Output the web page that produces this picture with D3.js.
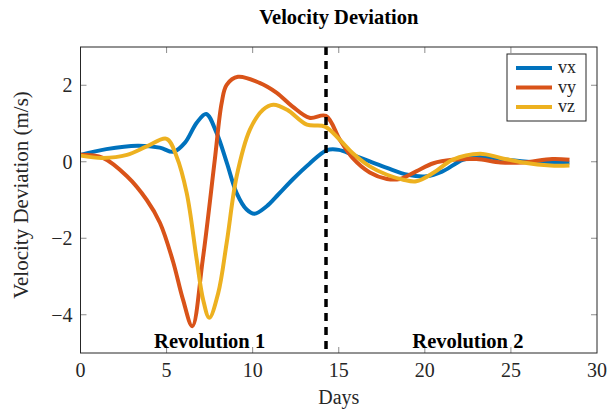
<!DOCTYPE html>
<html>
<head>
<meta charset="utf-8">
<script src="https://cdn.jsdelivr.net/npm/d3@7"></script>
<style>
    body { margin: 0; background: #fff; }
    text { font-family: "Liberation Serif", "Times New Roman", serif; }
</style>
</head>
<body>
<div id="visualization"></div>
<script>
// days sampled along each curve
const vxDays = [0, 1.5, 3.3, 4.6, 5.4, 6.07, 6.75, 7.3, 7.9, 8.5, 9.07, 9.65, 10.1, 10.8, 11.5, 12.35, 13.3, 14.3, 15.0, 15.8, 16.8, 17.8, 19.0, 20.1, 21.0, 22.2, 23.2, 24.8, 26.5, 28.4];
const vxValues = [0.18, 0.33, 0.42, 0.37, 0.26, 0.5, 1.02, 1.25, 0.76, -0.03, -0.82, -1.25, -1.36, -1.17, -0.85, -0.45, -0.05, 0.3, 0.31, 0.18, 0.01, -0.16, -0.34, -0.38, -0.26, 0.05, 0.13, 0.05, -0.02, -0.02];

const vyDays = [0, 1.3, 2.7, 3.85, 4.62, 5.37, 5.95, 6.49, 7.1, 7.8, 8.2, 8.49, 9.15, 10.4, 11.4, 12.3, 13.3, 14.25, 15.07, 15.8, 16.8, 17.8, 18.55, 19.5, 20.5, 21.6, 23.0, 24.4, 25.7, 27.4, 28.4];
const vyValues = [0.18, 0.1, -0.38, -1.0, -1.6, -2.6, -3.6, -4.3, -2.56, 0.05, 1.54, 2.01, 2.22, 2.06, 1.8, 1.45, 1.15, 1.2, 0.57, 0.1, -0.28, -0.45, -0.45, -0.25, -0.04, 0.05, 0.07, -0.02, -0.02, 0.07, 0.05];

const vzDays = [0, 1.3, 2.7, 3.85, 5.0, 5.58, 6.17, 6.75, 7.12, 7.48, 8.0, 8.49, 9.07, 9.84, 10.6, 11.2, 12.0, 13.15, 14.2, 15.07, 15.8, 16.8, 17.8, 18.75, 19.5, 20.5, 21.6, 23.2, 24.4, 25.7, 27.3, 28.4];
const vzValues = [0.16, 0.1, 0.18, 0.4, 0.6, 0.14, -0.82, -2.56, -3.6, -4.08, -3.43, -2.12, -0.38, 0.84, 1.36, 1.49, 1.36, 0.97, 0.92, 0.57, 0.23, -0.12, -0.34, -0.47, -0.51, -0.29, 0.05, 0.21, 0.1, -0.02, -0.1, -0.1];

const seriesNames = ['vx', 'vy', 'vz'];
const seriesColors = ['#0072BD', '#D95319', '#EDB120'];

const xTicks = [0, 5, 10, 15, 20, 25, 30];
const yTicks = [-4, -2, 0, 2];
const revolutionBoundary = 14.26;
const revolutionLabels = [
    { day: 7.5, text: 'Revolution 1' },
    { day: 22.5, text: 'Revolution 2' }
];

const config = {
    width: 607,
    height: 410,
    margins: { top: 47, right: 10, bottom: 57, left: 80.5 },
    get plotWidth() { return this.width - this.margins.left - this.margins.right; },
    get plotHeight() { return this.height - this.margins.top - this.margins.bottom; }
};

const series = seriesNames.map((name, i) => ({
    name: name,
    color: seriesColors[i],
    points: [vxDays, vyDays, vzDays][i].map((d, j) => ({
        day: d, value: [vxValues, vyValues, vzValues][i][j]
    }))
}));

const svg = d3.select('#visualization').append('svg')
    .attr('width', config.width)
    .attr('height', config.height);

const x = d3.scaleLinear().domain([0, 30]).range([0, config.plotWidth]);
const y = d3.scaleLinear().domain([-5, 3]).range([config.plotHeight, 0]);

const axisColor = '#262626';
const tickColor = '#8c8c8c';

// title
svg.append('text')
    .attr('x', config.margins.left + config.plotWidth / 2)
    .attr('y', 24)
    .attr('text-anchor', 'middle')
    .attr('font-size', 20.5)
    .attr('font-weight', 'bold')
    .text('Velocity Deviation');

const group = svg.append('g')
    .attr('transform', 'translate(' + config.margins.left + ',' + config.margins.top + ')');

group.append('defs').append('clipPath').attr('id', 'plot-clip')
    .append('rect').attr('width', config.plotWidth).attr('height', config.plotHeight);

// inward ticks on all four sides
const tickLen = 6;
xTicks.slice(1, -1).forEach(t => {
    group.append('line').attr('x1', x(t)).attr('x2', x(t))
        .attr('y1', config.plotHeight).attr('y2', config.plotHeight - tickLen)
        .attr('stroke', tickColor);
    group.append('line').attr('x1', x(t)).attr('x2', x(t))
        .attr('y1', 0).attr('y2', tickLen)
        .attr('stroke', tickColor);
});
yTicks.forEach(t => {
    group.append('line').attr('x1', 0).attr('x2', tickLen)
        .attr('y1', y(t)).attr('y2', y(t))
        .attr('stroke', tickColor);
    group.append('line').attr('x1', config.plotWidth).attr('x2', config.plotWidth - tickLen)
        .attr('y1', y(t)).attr('y2', y(t))
        .attr('stroke', tickColor);
});

// tick labels
group.selectAll('.xlabel')
        .data(xTicks)
    .enter().append('text')
        .attr('x', d => x(d))
        .attr('y', config.plotHeight + 24)
        .attr('text-anchor', 'middle')
        .attr('font-size', 20)
        .attr('fill', axisColor)
        .text(d => d);

group.selectAll('.ylabel')
        .data(yTicks)
    .enter().append('text')
        .attr('x', -8)
        .attr('y', d => y(d) + 7)
        .attr('text-anchor', 'end')
        .attr('font-size', 20)
        .attr('fill', axisColor)
        .text(d => d < 0 ? '\u2212' + Math.abs(d) : d);

// axis titles
svg.append('text')
    .attr('x', config.margins.left + config.plotWidth / 2)
    .attr('y', 404)
    .attr('text-anchor', 'middle')
    .attr('font-size', 20)
    .attr('fill', axisColor)
    .text('Days');

svg.append('text')
    .attr('transform', 'translate(28,' + (config.margins.top + config.plotHeight / 2 - 5) + ') rotate(-90)')
    .attr('text-anchor', 'middle')
    .attr('font-size', 21)
    .attr('fill', axisColor)
    .text('Velocity Deviation (m/s)');

// curves
const line = d3.line()
    .x(d => x(d.day))
    .y(d => y(d.value))
    .curve(d3.curveCatmullRom.alpha(0.5));

group.append('g').attr('clip-path', 'url(#plot-clip)')
    .selectAll('path')
        .data(series)
    .enter().append('path')
        .attr('d', d => line(d.points))
        .attr('fill', 'none')
        .attr('stroke', d => d.color)
        .attr('stroke-width', 4)
        .attr('stroke-linejoin', 'round');

// revolution boundary
group.append('line')
    .attr('x1', x(revolutionBoundary)).attr('x2', x(revolutionBoundary))
    .attr('y1', 0).attr('y2', config.plotHeight)
    .attr('stroke', '#000')
    .attr('stroke-width', 3.5)
    .attr('stroke-dasharray', '8,6');

group.selectAll('.rev')
        .data(revolutionLabels)
    .enter().append('text')
        .attr('x', d => x(d.day))
        .attr('y', config.plotHeight - 5)
        .attr('text-anchor', 'middle')
        .attr('font-size', 20.5)
        .attr('font-weight', 'bold')
        .text(d => d.text);

// frame
group.append('rect')
    .attr('width', config.plotWidth)
    .attr('height', config.plotHeight)
    .attr('fill', 'none')
    .attr('stroke', axisColor)
    .attr('stroke-width', 1);

// legend
const legend = svg.append('g').attr('transform', 'translate(507,54)');
legend.append('rect')
    .attr('width', 79).attr('height', 67)
    .attr('fill', '#fff')
    .attr('stroke', axisColor);
series.forEach((s, i) => {
    legend.append('line')
        .attr('x1', 9).attr('x2', 45)
        .attr('y1', 14 + i * 19.5).attr('y2', 14 + i * 19.5)
        .attr('stroke', s.color)
        .attr('stroke-width', 4);
    legend.append('text')
        .attr('x', 51)
        .attr('y', 14 + i * 19.5 + 5)
        .attr('font-size', 18)
        .attr('fill', axisColor)
        .text(s.name);
});
</script>
</body>
</html>
